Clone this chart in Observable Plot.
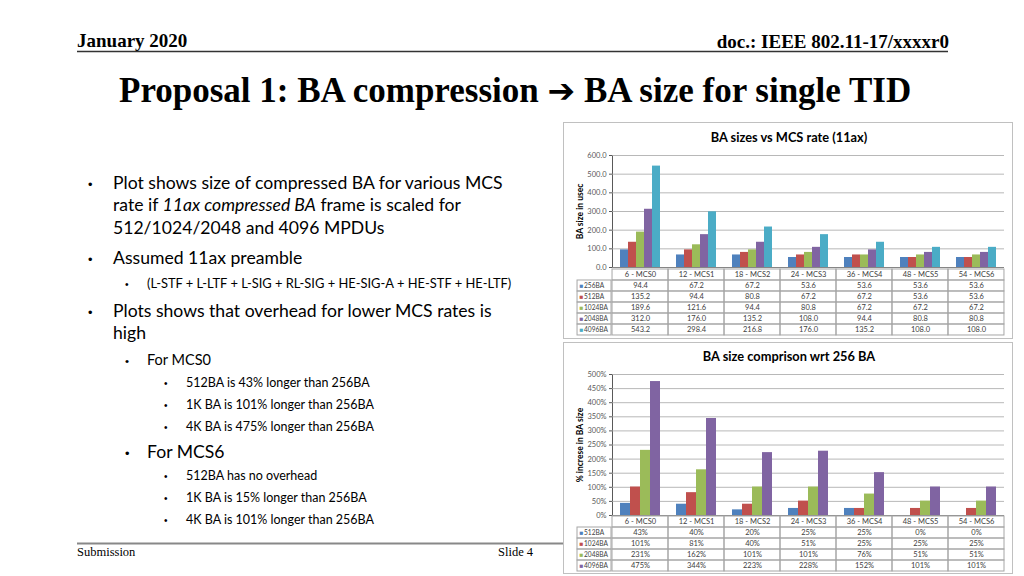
<!DOCTYPE html>
<html><head><meta charset="utf-8">
<script src="https://cdn.jsdelivr.net/npm/d3@7"></script>
<script src="https://cdn.jsdelivr.net/npm/@observablehq/plot@0.6"></script>
<style>
body{margin:0;width:1024px;height:576px;position:relative;overflow:hidden;background:#fff;}
.pl{position:absolute;}
</style></head><body>
<svg id="slide" width="1024" height="576" style="position:absolute;left:0;top:0"></svg>
<script>
// ---------- data ----------
const cats = ["6 - MCS0","12 - MCS1","18 - MCS2","24 - MCS3","36 - MCS4","48 - MCS5","54 - MCS6"];
const series1 = ["256BA","512BA","1024BA","2048BA","4096BA"];
const ba256  = [94.4,67.2,67.2,53.6,53.6,53.6,53.6];
const ba512  = [135.2,94.4,80.8,67.2,67.2,53.6,53.6];
const ba1024 = [189.6,121.6,94.4,80.8,67.2,67.2,67.2];
const ba2048 = [312.0,176.0,135.2,108.0,94.4,80.8,80.8];
const ba4096 = [543.2,298.4,216.8,176.0,135.2,108.0,108.0];
const colors1 = ["#4F81BD","#C0504D","#9BBB59","#8064A2","#4BACC6"];
const yTicks1 = [0,100,200,300,400,500,600];

const series2 = ["512BA","1024BA","2048BA","4096BA"];
const pct512  = [43,40,20,25,25,0,0];
const pct1024 = [101,81,40,51,25,25,25];
const pct2048 = [231,162,101,101,76,51,51];
const pct4096 = [475,344,223,228,152,101,101];
const colors2 = ["#4F81BD","#C0504D","#9BBB59","#8064A2"];
const yTicks2 = [0,50,100,150,200,250,300,350,400,450,500];

// ---------- slide text ----------
const svg = d3.select("#slide");
const SERIF = "'Liberation Serif','Times New Roman',serif";
const SANS = "Lato,'Open Sans',sans-serif";
function txt(x,y,s,fs,opts={}){
  const t = svg.append("text").attr("x",x).attr("y",y).attr("font-size",fs)
    .attr("font-family",opts.ff||SANS).attr("fill",opts.fill||"#000")
    .attr("font-weight",opts.fw||"normal").attr("text-anchor",opts.anchor||"start");
  if (Array.isArray(s)) s.forEach(p=>t.append("tspan").attr("font-style",p.i?"italic":"normal").text(p.t));
  else t.text(s);
  return t;
}
// header
txt(77,47,"January 2020",19,{ff:SERIF,fw:"bold"});
txt(949,48,"doc.: IEEE 802.11-17/xxxxr0",19,{ff:SERIF,fw:"bold",anchor:"end"});
svg.append("line").attr("x1",77).attr("x2",948).attr("y1",51.5).attr("y2",51.5).attr("stroke","#333").attr("stroke-width",1.5);
const title = txt(119,102,"",35,{ff:SERIF,fw:"bold"});
title.append("tspan").text("Proposal 1: BA compression ");
title.append("tspan").attr("font-family","'DejaVu Sans'").attr("font-size",33).text("➔");
title.append("tspan").text(" BA size for single TID");
// footer
svg.append("line").attr("x1",77).attr("x2",948).attr("y1",543.5).attr("y2",543.5).attr("stroke","#888").attr("stroke-width",2);
txt(77,556,"Submission",12.5,{ff:SERIF});
txt(498,556,"Slide 4",12.5,{ff:SERIF});
// bullets
const lines = [
  {b:88,x:113,c:182.7,fs:17.6,t:"Plot shows size of compressed BA for various MCS"},
  {x:113,c:205,fs:17.6,t:[{t:"rate if "},{t:"11ax compressed BA",i:1},{t:" frame is scaled for"}]},
  {x:113,c:228.3,fs:17.6,t:"512/1024/2048 and 4096  MPDUs"},
  {b:88,x:113,c:257.7,fs:17.6,t:"Assumed 11ax preamble"},
  {b:125,x:147,c:284,fs:12.9,t:"(L-STF + L-LTF + L-SIG + RL-SIG + HE-SIG-A + HE-STF + HE-LTF)"},
  {b:88,x:113,c:310.7,fs:17.6,t:"Plots shows that overhead for lower MCS rates is"},
  {x:113,c:333.3,fs:17.6,t:"high"},
  {b:125,x:147,c:360,fs:14.5,t:"For MCS0"},
  {b:164,x:186,c:383.3,fs:12.5,t:"512BA is 43% longer than 256BA"},
  {b:164,x:186,c:405,fs:12.5,t:"1K BA is 101% longer than 256BA"},
  {b:164,x:186,c:427.3,fs:12.5,t:"4K BA is 475% longer than 256BA"},
  {b:125,x:147,c:451.7,fs:17.6,t:"For MCS6"},
  {b:164,x:186,c:476,fs:12.5,t:"512BA has no overhead"},
  {b:164,x:186,c:498.3,fs:12.5,t:"1K BA is 15% longer than 256BA"},
  {b:164,x:186,c:520,fs:12.5,t:"4K BA is 101% longer than 256BA"}
];
lines.forEach(l=>{
  const base = l.c + l.fs*0.33;
  if (l.b) txt(l.b, base, "•", Math.min(l.fs,16)*0.8, {ff:"'Liberation Sans',sans-serif"});
  txt(l.x, base, l.t, l.fs);
});

// ---------- charts ----------
const W = 450, ML = 48, MR = 8, FW = W - ML - MR;
function chart(o){
  // frame box + title
  svg.append("rect").attr("x",o.left+0.5).attr("y",o.top+0.5).attr("width",W-1).attr("height",o.boxH)
     .attr("fill","#fff").attr("stroke","#c0c0c0");
  txt(o.left+226, o.top+o.titleBase, o.title, 12.8, {fw:"bold",anchor:"middle"});
  const data = o.series.flatMap((s,i)=>cats.map((c,j)=>({cat:c, series:s, value:o.rows[i][j]})));
  const color = {domain:o.series, range:o.colors};
  const top = Plot.plot({
    width: W, height: o.topH, marginTop: o.mt, marginBottom: 1, marginLeft: ML, marginRight: MR,
    style: {fontFamily: SANS, fontSize: "7.5px", color: "#595959", background: "transparent", overflow: "visible"},
    facet: {data, x: "cat"},
    fx: {domain: cats, padding: 0, axis: null, label: null},
    x: {domain: o.series, paddingInner: 0, paddingOuter: o.po, axis: null},
    y: {domain: [0, o.yTicks[o.yTicks.length-1]], ticks: o.yTicks, tickFormat: o.yFmt, tickSize: 3, tickPadding: 3,
        label: o.yLabel, labelAnchor: "center", labelOffset: 36, line: true},
    color,
    marks: [
      Plot.ruleY(o.yTicks, {stroke: "#a6a6a6", strokeWidth: 0.8}),
      Plot.barY(data, {x: "series", y: "value", fill: "series"}),
      Plot.ruleY([0], {stroke: "#868686"})
    ]
  });
  d3.select(top).selectAll("text").filter(function(){return this.textContent.indexOf(o.yLabel)>=0;})
    .each(function(){ d3.select(this).selectAll("tspan").remove(); this.textContent = o.yLabel; })
    .attr("font-weight","bold").attr("font-size","8.5px").attr("fill","#000");
  top.classList.add("pl"); top.style.left = o.left+"px"; top.style.top = o.top+"px";
  document.body.appendChild(top);

  const nRows = o.series.length + 1;
  const tbl = Plot.plot({
    width: W, height: 1 + nRows*o.rowH + 2, marginTop: 1, marginBottom: 2, marginLeft: ML, marginRight: MR,
    style: {fontFamily: SANS, fontSize: "7.5px", color: "#404040", background: "transparent", overflow: "visible"},
    x: {domain: cats, padding: 0, axis: null},
    y: {domain: ["hdr", ...o.series], padding: 0, axis: null},
    color,
    marks: [
      Plot.cell(cats, {x: d=>d, y: ()=>"hdr", stroke: "#a6a6a6", fill: "none"}),
      Plot.cell(data, {x: "cat", y: "series", stroke: "#a6a6a6", fill: "none"}),
      Plot.cell(o.series, {y: d=>d, insetLeft: -34, insetRight: FW, stroke: "#a6a6a6", fill: "none"}),
      Plot.text(cats, {x: d=>d, y: ()=>"hdr", text: d=>d}),
      Plot.text(data, {x: "cat", y: "series", text: d=>o.valFmt(d.value)}),
      Plot.text(o.series, {y: d=>d, frameAnchor: "left", dx: -32, text: ()=>"■", fill: d=>d, fontSize: 6.5}),
      Plot.text(o.series, {y: d=>d, frameAnchor: "left", dx: -27.5, textAnchor: "start", text: d=>d, fontSize: 6.6})
    ]
  });
  tbl.classList.add("pl"); tbl.style.left = o.left+"px"; tbl.style.top = (o.top+o.topH-2)+"px";
  document.body.appendChild(tbl);
}

chart({left:563, top:122, boxH:216, titleBase:20, title:"BA sizes vs MCS rate (11ax)",
  series: series1, rows:[ba256,ba512,ba1024,ba2048,ba4096], colors: colors1,
  yTicks: yTicks1, yFmt: d3.format(".1f"), valFmt: d3.format(".1f"), yLabel: "BA size in usec",
  topH:146, mt:33, po:0.85, rowH:11.7});
chart({left:563, top:342, boxH:231, titleBase:19, title:"BA size comprison wrt 256 BA",
  series: series2, rows:[pct512,pct1024,pct2048,pct4096], colors: colors2,
  yTicks: yTicks2, yFmt: d=>d+"%", valFmt: d=>d+"%", yLabel: "% increse in BA size",
  topH:174, mt:32, po:0.74, rowH:11.5});
</script>
</body></html>
